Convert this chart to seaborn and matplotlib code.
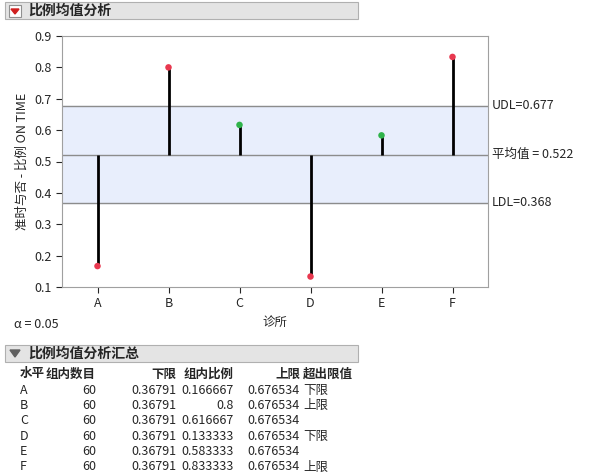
import matplotlib
matplotlib.use("Agg")
import matplotlib.pyplot as plt
import seaborn as sns
import pandas as pd
from matplotlib.patches import Rectangle, Polygon

sns.set_style("white")
plt.rcParams['font.family'] = ['Noto Sans CJK SC', 'DejaVu Sans']

levels = ["A", "B", "C", "D", "E", "F"]
counts = [60, 60, 60, 60, 60, 60]
props = [0.166667, 0.8, 0.616667, 0.133333, 0.583333, 0.833333]
ldl_vals = [0.36791] * 6
udl_vals = [0.676534] * 6
flags = ["下限", "上限", "", "下限", "", "上限"]
mean_val = 0.522
udl = 0.677
ldl = 0.368

df = pd.DataFrame({"诊所": levels, "p": props})
df["out"] = [(v > udl or v < ldl) for v in props]

W, H = 599, 476
fig = plt.figure(figsize=(W/100, H/100), dpi=100)

def fx(x): return x / W
def fy(y): return 1 - y / H

ax = fig.add_axes([fx(62), fy(287), fx(488-62), fy(36) - fy(287)])
ax.axhspan(ldl, udl, color="#e8eefc", zorder=0)
for v in (udl, mean_val, ldl):
    ax.axhline(v, color="#8c8c8c", lw=1, zorder=1)
for i, v in enumerate(props):
    ax.vlines(i, mean_val, v, color="black", lw=2, zorder=2)
sns.scatterplot(data=df, x="诊所", y="p", hue="out", palette={True: "#e8384f", False: "#2fb34a"},
                s=22, legend=False, ax=ax, zorder=3, edgecolor="none")
ax.set_xlim(-0.5, 5.5)
ax.set_ylim(0.1, 0.9)
ax.set_yticks([0.1, 0.2, 0.3, 0.4, 0.5, 0.6, 0.7, 0.8, 0.9])
ax.set_xlabel("诊所", fontsize=9)
ax.set_ylabel("准时与否 - 比例 ON TIME", fontsize=9)
ax.tick_params(labelsize=9, length=4, direction="out", left=True, bottom=True)
for s in ax.spines.values():
    s.set_color("#a0a0a0")
ax.text(5.55, udl, "UDL=0.677", va="center", ha="left", fontsize=9)
ax.text(5.55, mean_val, "平均值 = 0.522", va="center", ha="left", fontsize=9)
ax.text(5.55, ldl, "LDL=0.368", va="center", ha="left", fontsize=9)

# headers
def header(y0, x1, title):
    fig.patches.append(Rectangle((fx(5), fy(y0+17)), fx(x1-5), fy(y0)-fy(y0+17),
                                 transform=fig.transFigure, facecolor="#e4e4e4", edgecolor="#b0b0b0", lw=0.8))
    fig.text(fx(28), fy(y0+8.5), title, fontsize=10, fontweight="bold", va="center")

header(2, 358, "比例均值分析")
fig.patches.append(Rectangle((fx(9), fy(17)), fx(12), fy(5)-fy(17), transform=fig.transFigure,
                             facecolor="white", edgecolor="#909090", lw=0.8))
fig.patches.append(Polygon([(fx(11), fy(9)), (fx(19), fy(9)), (fx(15), fy(14))], closed=True,
                           transform=fig.transFigure, color="#d02020"))
fig.text(fx(14), fy(325), "α = 0.05", fontsize=9, va="center")

header(345, 358, "比例均值分析汇总")
fig.patches.append(Polygon([(fx(10), fy(350)), (fx(20), fy(350)), (fx(15), fy(357))], closed=True,
                           transform=fig.transFigure, color="#606060"))

cols = [(20, "left", "水平"), (96, "right", "组内数目"), (176, "right", "下限"),
        (234, "right", "组内比例"), (300, "right", "上限"), (303, "left", "超出限值")]
ty = 374
for x, ha, t in cols:
    fig.text(fx(x), fy(ty), t, fontsize=9, fontweight="bold", ha=ha, va="center")
for r in range(6):
    y = 390 + r * 15.4
    vals = [levels[r], str(counts[r]), f"{ldl_vals[r]:g}", f"{props[r]:g}", f"{udl_vals[r]:g}", flags[r]]
    for (x, ha, _), v in zip(cols, vals):
        fig.text(fx(x), fy(y), v, fontsize=9, ha=ha, va="center")

fig.savefig("out.png", dpi=100)
